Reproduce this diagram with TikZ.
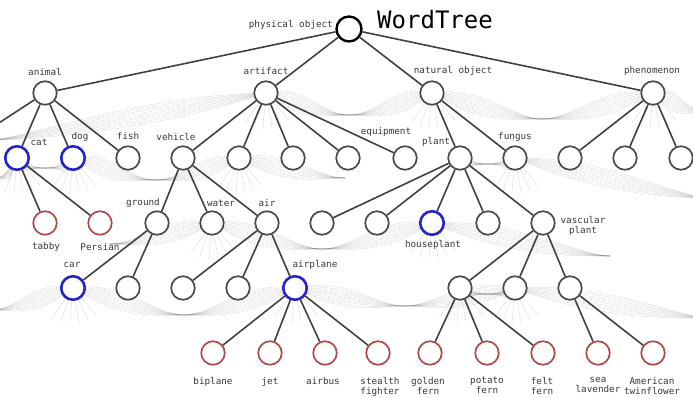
\documentclass[tikz,border=0pt]{standalone}
\usepackage{fontspec}
\newfontfamily\lblfont{DejaVu Sans Mono}
\usetikzlibrary{calc,backgrounds}
\definecolor{bc}{HTML}{2424C8}
\definecolor{rc}{HTML}{B04848}
\definecolor{gc}{HTML}{4A4A4A}
\tikzset{
 gnode/.style={circle,minimum size=23.5pt,inner sep=0pt,draw=gc,line width=1.7pt,fill=white},
 bnode/.style={gnode,draw=bc,line width=2.6pt},
 rnode/.style={gnode,draw=rc,line width=1.7pt},
 rootnode/.style={gnode,draw=black,line width=2.4pt,minimum size=25pt},
 lbl/.style={font=\lblfont\fontsize{9.3}{10}\selectfont,text=black!78,inner sep=0pt,align=center},
 tedge/.style={draw=black!75,line width=1.6pt},
 fanline/.style={draw=black,opacity=0.12,line width=0.5pt}
}
% half bundle: lines fan out of node #1 and meet at point #2, arriving horizontally (offset #3)
\newcommand\halfb[3]{%
 \foreach \k in {-4,...,4}{
  \draw[fanline] (#1.center) .. controls ($(#1)!0.45!(#2)+(0,{\k*5})$) and ($(#2)+(#3,0)$) .. (#2);
 }}
% bundle between two nodes (#1 left of #2), sagging by #3
\newcommand\bund[3]{%
 \coordinate (bm) at ($(#1)!0.5!(#2)+(0,#3)$);
 \halfb{#1}{bm}{-30}\halfb{#2}{bm}{30}}
\newcommand\spk[1]{\foreach \a in {50,65,...,130}{\draw[fanline] (#1.center) -- ++(\a:36);}}
\begin{document}
\begin{tikzpicture}[x=1pt,y=-1pt]
\useasboundingbox (0,0) rectangle (693,397);
\clip (0,0) rectangle (693,397);
% title
\node[font=\lblfont\fontsize{24}{26}\selectfont,inner sep=0pt] (title) at (435,20) {WordTree};
% level 0
\node[rootnode] (root) at (349,29) {};
\node[lbl,anchor=east] (lroot) at (333,25) {physical object};
% level 1
\node[gnode] (animal) at (45,93) {};
\node[gnode] (artifact) at (266,93) {};
\node[gnode] (natobj) at (432,93) {};
\node[gnode] (phenom) at (653,93) {};
\node[lbl] (lanimal) at (45,72) {animal};
\node[lbl] (lartifact) at (266,71) {artifact};
\node[lbl] (lnatobj) at (453,71) {natural object};
\node[lbl] (lphenom) at (652,71) {phenomenon};
\coordinate (offL) at (-55,158);
% level 2
\node[bnode] (cat) at (17,158) {};
\node[bnode] (dog) at (73,158) {};
\node[gnode] (fish) at (128,158) {};
\node[gnode] (vehicle) at (183,158) {};
\node[gnode] (a2) at (239,158) {};
\node[gnode] (a3) at (293,158) {};
\node[gnode] (a4) at (348,158) {};
\node[gnode] (equip) at (405,158) {};
\node[gnode] (plant) at (460,158) {};
\node[gnode] (fungus) at (515,158) {};
\node[gnode] (p1) at (570,158) {};
\node[gnode] (p2) at (625,158) {};
\node[gnode] (p3) at (681,158) {};
\node[lbl] (lcat) at (39,142) {cat};
\node[lbl] (ldog) at (80,137) {dog};
\node[lbl] (lfish) at (128,136) {fish};
\node[lbl] (lvehicle) at (176,137) {vehicle};
\node[lbl] (lequip) at (386,132) {equipment};
\node[lbl] (lplant) at (436,142) {plant};
\node[lbl] (lfungus) at (515,137) {fungus};
% level 3
\node[rnode] (tabby) at (45,223) {};
\node[rnode] (persian) at (100,223) {};
\node[gnode] (ground) at (157,223) {};
\node[gnode] (water) at (212,223) {};
\node[gnode] (air) at (267,223) {};
\node[gnode] (q1) at (322,223) {};
\node[gnode] (q2) at (377,223) {};
\node[bnode] (house) at (432,223) {};
\node[gnode] (q3) at (488,223) {};
\node[gnode] (vasc) at (543,223) {};
\node[lbl] (ltabby) at (46,247) {tabby};
\node[lbl] (lpersian) at (100,247) {Persian};
\node[lbl] (lground) at (143,203) {ground};
\node[lbl] (lwater) at (221,203) {water};
\node[lbl] (lair) at (267,203) {air};
\node[lbl] (lhouse) at (433,245) {houseplant};
\node[lbl] (lvasc) at (583,225.5) {vascular\\plant};
% level 4
\node[bnode] (car) at (73,288) {};
\node[gnode] (r1) at (128,288) {};
\node[gnode] (r2) at (183,288) {};
\node[gnode] (r3) at (238,288) {};
\node[bnode] (airplane) at (295,288) {};
\node[gnode] (v1) at (460,288) {};
\node[gnode] (v2) at (515,288) {};
\node[gnode] (v3) at (570,288) {};
\node[lbl] (lcar) at (72,265) {car};
\node[lbl] (lairplane) at (315,265) {airplane};
% level 5
\node[rnode] (biplane) at (213,353) {};
\node[rnode] (jet) at (270,353) {};
\node[rnode] (airbus) at (325,353) {};
\node[rnode] (stealth) at (378,353) {};
\node[rnode] (golden) at (430,353) {};
\node[rnode] (potato) at (487,353) {};
\node[rnode] (felt) at (543,353) {};
\node[rnode] (sea) at (598,353) {};
\node[rnode] (amer) at (653,353) {};
\node[lbl,anchor=north] (lbiplane) at (213,377) {biplane};
\node[lbl,anchor=north] (ljet) at (270,377) {jet};
\node[lbl,anchor=north] (lairbus) at (323,377) {airbus};
\node[lbl,anchor=north] (lstealth) at (380,377) {stealth\\fighter};
\node[lbl,anchor=north] (lgolden) at (428,377) {golden\\fern};
\node[lbl,anchor=north] (lpotato) at (487,377) {potato\\fern};
\node[lbl,anchor=north] (lfelt) at (542,377) {felt\\fern};
\node[lbl,anchor=north] (lsea) at (598,377) {sea\\lavender};
\node[lbl,anchor=north] (lamer) at (652,377) {American\\twinflower};
% off-canvas fan ends
\coordinate (fL1) at (-10,140);
\coordinate (fR1) at (710,112);
\coordinate (fL2) at (-10,178);
\coordinate (fR2) at (710,198);
\coordinate (fR2b) at (345,178);
\coordinate (fR3) at (610,256);
\coordinate (fL3) at (110,244);
\coordinate (fL4) at (-10,310);
\coordinate (fR4) at (710,318);
\begin{pgfonlayer}{background}
% faint bundled edges
\halfb{artifact}{fL1}{30}
\bund{artifact}{natobj}{22}
\bund{natobj}{phenom}{26}
\halfb{phenom}{fR1}{-30}
\bund{cat}{dog}{10}
\halfb{cat}{fL2}{30}
\bund{dog}{a2}{22}
\halfb{a2}{fR2b}{-30}
\bund{plant}{fungus}{6}
\halfb{fungus}{fR2}{-30}
\halfb{water}{fL3}{30}
\bund{water}{house}{26}
\halfb{house}{fR3}{-30}
\halfb{car}{fL4}{30}
\bund{car}{airplane}{27}
\bund{airplane}{v2}{18}
\bund{v1}{v2}{6}
\halfb{v2}{fR4}{-30}
\spk{cat}\spk{dog}\spk{artifact}\spk{natobj}\spk{phenom}\spk{a2}
\spk{fungus}\spk{water}\spk{house}\spk{car}\spk{airplane}\spk{v1}\spk{v2}
% tree edges
\draw[tedge] (root) -- (animal);
\draw[tedge] (root) -- (artifact);
\draw[tedge] (root) -- (natobj);
\draw[tedge] (root) -- (phenom);
\draw[tedge] (animal) -- (offL);
\draw[tedge] (animal) -- (cat);
\draw[tedge] (animal) -- (dog);
\draw[tedge] (animal) -- (fish);
\foreach \c in {vehicle,a2,a3,a4,equip}{\draw[tedge] (artifact) -- (\c);}
\foreach \c in {plant,fungus}{\draw[tedge] (natobj) -- (\c);}
\foreach \c in {p1,p2,p3}{\draw[tedge] (phenom) -- (\c);}
\foreach \c in {tabby,persian}{\draw[tedge] (cat) -- (\c);}
\foreach \c in {ground,water,air}{\draw[tedge] (vehicle) -- (\c);}
\foreach \c in {q1,q2,house,q3,vasc}{\draw[tedge] (plant) -- (\c);}
\foreach \c in {car,r1}{\draw[tedge] (ground) -- (\c);}
\foreach \c in {r2,r3,airplane}{\draw[tedge] (air) -- (\c);}
\foreach \c in {v1,v2,v3}{\draw[tedge] (vasc) -- (\c);}
\foreach \c in {biplane,jet,airbus,stealth}{\draw[tedge] (airplane) -- (\c);}
\foreach \c in {golden,potato,felt}{\draw[tedge] (v1) -- (\c);}
\foreach \c in {sea,amer}{\draw[tedge] (v3) -- (\c);}
\end{pgfonlayer}
\end{tikzpicture}
\end{document}
